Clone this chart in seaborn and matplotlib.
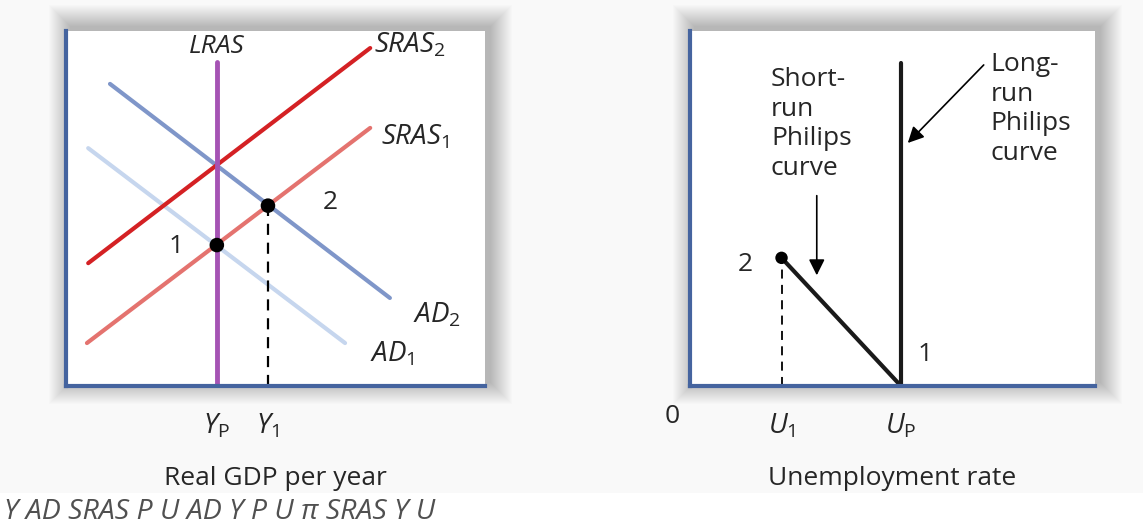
import matplotlib
matplotlib.use("Agg")
import matplotlib.pyplot as plt
from matplotlib import patches
import seaborn as sns

# ---- left panel: AD / AS model (abstract units 0..10) ----
lras_x = [3.60, 3.60]
lras_y = [0.0, 9.13]
sras2_x = [0.53, 7.26]
sras2_y = [3.46, 9.52]
sras1_x = [0.50, 7.26]
sras1_y = [1.21, 7.27]
ad2_x = [1.05, 7.73]
ad2_y = [8.51, 2.48]
ad1_x = [0.53, 6.66]
ad1_y = [6.70, 1.21]
eq_x = [3.60, 4.82]
eq_y = [3.97, 5.08]
eq_labels = ["1", "2"]
gdp_ticks = [3.60, 4.82]
gdp_ticklabels = [r"$Y_{\mathrm{P}}$", r"$Y_1$"]

# ---- right panel: Phillips curves ----
lrpc_x = [5.21, 5.21]
lrpc_y = [0.0, 9.10]
srpc_x = [2.26, 5.21]
srpc_y = [3.61, 0.0]
pc_pt_x = [2.26]
pc_pt_y = [3.61]
unemp_ticks = [2.26, 5.21]
unemp_ticklabels = [r"$U_1$", r"$U_{\mathrm{P}}$"]

caption = "Y AD SRAS P U AD Y P U π SRAS Y U"

sns.set_theme(style="white")
plt.rcParams["font.family"] = ["Open Sans", "DejaVu Sans"]
plt.rcParams["mathtext.fontset"] = "custom"
plt.rcParams["mathtext.it"] = "Open Sans:italic"
plt.rcParams["mathtext.rm"] = "Open Sans"
plt.rcParams["mathtext.default"] = "it"

W, H = 1143, 531
fig = plt.figure(figsize=(W / 100, H / 100), dpi=100, facecolor="#f9f9f9")
# white strip behind the caption
fig.patches.append(patches.Rectangle((0, 0), 1, 38 / H, transform=fig.transFigure,
                                     facecolor="white", edgecolor="none", zorder=-5))


def px_axes(l, t, r, b):
    return fig.add_axes([l / W, 1 - b / H, (r - l) / W, (b - t) / H])


def add_shadow(l, t, r, b):
    # soft drop shadow, pushed a little up and to the right
    for k in range(22, 0, -1):
        rect = patches.Rectangle(((l - k + 5) / W, 1 - (b + k - 4) / H),
                                 (r - l + 2 * k) / W, (b - t + 2 * k) / H,
                                 transform=fig.transFigure, facecolor="black",
                                 edgecolor="none", alpha=0.012, zorder=-2)
        fig.patches.append(rect)


spine_col = "#45649f"
fs = 19

add_shadow(66, 31, 485, 386)
add_shadow(690, 31, 1095, 386)
ax1 = px_axes(66, 31, 485, 386)
ax2 = px_axes(690, 31, 1095, 386)

for ax in (ax1, ax2):
    ax.set_facecolor("white")
    ax.set_xlim(0, 10)
    ax.set_ylim(0, 10)
    ax.set_yticks([])
    for s in ("top", "right"):
        ax.spines[s].set_visible(False)
    for s in ("left", "bottom"):
        ax.spines[s].set_color(spine_col)
        ax.spines[s].set_linewidth(3)
        ax.spines[s].set_zorder(5)
    ax.tick_params(axis="x", length=0, pad=19, labelsize=fs + 1)

# left panel
kw = dict(estimator=None, sort=False, legend=False)
sns.lineplot(x=ad1_x, y=ad1_y, ax=ax1, color="#c6d6ee", lw=3, **kw)
sns.lineplot(x=ad2_x, y=ad2_y, ax=ax1, color="#7f96c9", lw=3, **kw)
sns.lineplot(x=sras1_x, y=sras1_y, ax=ax1, color="#e4736f", lw=3, **kw)
sns.lineplot(x=sras2_x, y=sras2_y, ax=ax1, color="#d42124", lw=3, **kw)
sns.lineplot(x=lras_x, y=lras_y, ax=ax1, color="#a553b4", lw=3.5, **kw)
ax1.plot([eq_x[1], eq_x[1]], [0, eq_y[1]], color="black", lw=1.6, ls=(0, (5, 3.5)))
sns.scatterplot(x=eq_x, y=eq_y, ax=ax1, color="black", s=110, zorder=6, edgecolor="none")
ax1.set_xticks(gdp_ticks, labels=gdp_ticklabels)
ax1.set_xlabel("Real GDP per year", fontsize=fs, labelpad=18)
ax1.set_ylabel("Price level", fontsize=fs, labelpad=16)

ax1.text(3.60, 9.55, "LRAS", fontsize=fs, style="italic", ha="center", va="center")
ax1.text(8.21, 9.6, r"$SRAS_2$", fontsize=fs + 1, ha="center", va="center")
ax1.text(8.33, 7.0, r"$SRAS_1$", fontsize=fs + 1, ha="center", va="center")
ax1.text(2.63, 3.92, eq_labels[0], fontsize=fs, ha="center", va="center")
ax1.text(6.30, 5.18, eq_labels[1], fontsize=fs, ha="center", va="center")
ax1.text(8.85, 2.0, r"$AD_2$", fontsize=fs + 1, ha="center", va="center")
ax1.text(7.78, 0.9, r"$AD_1$", fontsize=fs + 1, ha="center", va="center")

# right panel
sns.lineplot(x=lrpc_x, y=lrpc_y, ax=ax2, color="#1a1a1a", lw=3, **kw)
sns.lineplot(x=srpc_x, y=srpc_y, ax=ax2, color="#1a1a1a", lw=3, **kw)
ax2.plot([pc_pt_x[0], pc_pt_x[0]], [0, pc_pt_y[0]], color="black", lw=1.3, ls=(0, (5, 3.5)))
sns.scatterplot(x=pc_pt_x, y=pc_pt_y, ax=ax2, color="black", s=80, zorder=6, edgecolor="none")
ax2.set_xticks(unemp_ticks, labels=unemp_ticklabels)
ax2.set_xlabel("Unemployment rate", fontsize=fs, labelpad=18)
ax2.set_ylabel("Inflation rate", fontsize=fs, labelpad=24)

ax2.text(1.36, 3.41, "2", fontsize=fs, ha="center", va="center")
ax2.text(5.81, 0.90, "1", fontsize=fs, ha="center", va="center")
ax2.text(-0.45, -0.85, "0", fontsize=fs, ha="center", va="center", clip_on=False)
ax2.text(2.0, 7.38, "Short-\nrun\nPhilips\ncurve", fontsize=fs, ha="left", va="center",
         linespacing=1.25)
ax2.text(7.42, 7.80, "Long-\nrun\nPhilips\ncurve", fontsize=fs, ha="left", va="center",
         linespacing=1.25)
ax2.annotate("", xy=(3.13, 3.04), xytext=(3.13, 5.44),
             arrowprops=dict(arrowstyle="-|>", color="black", lw=1.2, mutation_scale=24))
ax2.annotate("", xy=(5.33, 6.79), xytext=(7.30, 9.10),
             arrowprops=dict(arrowstyle="-|>", color="black", lw=1.2, mutation_scale=24))

fig.text(4 / W, 1 - 512 / H, caption, fontsize=20.5, style="italic", color="#505050",
         ha="left", va="center")

fig.savefig("out.png", dpi=100, facecolor=fig.get_facecolor())
